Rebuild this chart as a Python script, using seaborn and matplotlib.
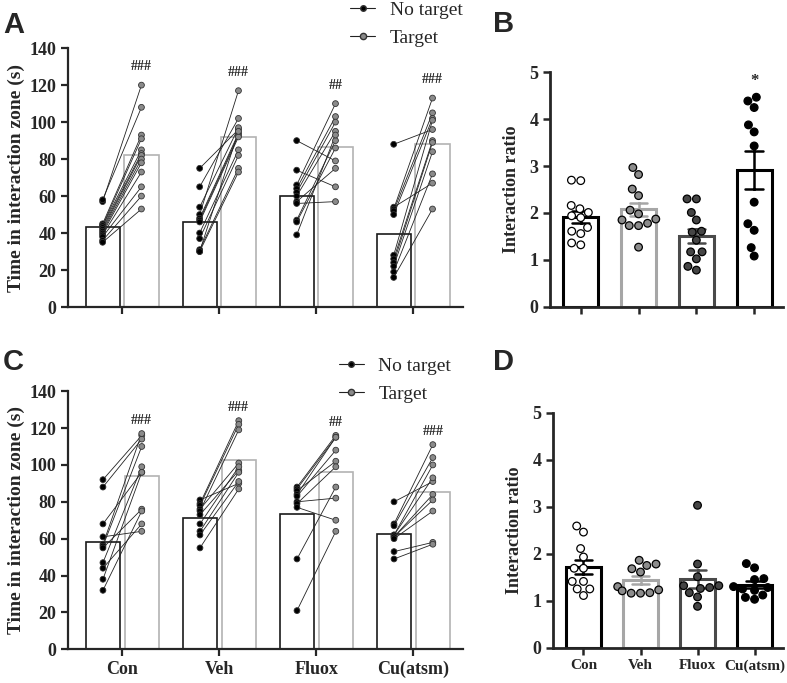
# Social interaction test: paired time-in-zone (A, C) and interaction ratio (B, D)

import pandas as pd
import matplotlib
matplotlib.use('Agg')
import matplotlib.pyplot as plt
import seaborn as sns
from matplotlib.lines import Line2D

groups = ['Con', 'Veh', 'Fluox', 'Cu(atsm)']
conds = ['No target', 'Target']

# ------------------------------------------------
# Data
# ------------------------------------------------
# Panel A: time in interaction zone (s), paired per animal
a_con_no = [57, 58, 45, 44, 44, 43, 42, 41, 40, 39, 38, 36, 35]
a_con_tg = [120, 108, 93, 91, 85, 83, 82, 80, 78, 73, 65, 60, 53]
a_veh_no = [75, 65, 54, 50, 48, 47, 46, 40, 37, 31, 30, 30]
a_veh_tg = [96, 102, 97, 117, 94, 93, 92, 85, 82, 75, 73, 95]
a_flu_no = [90, 74, 66, 64, 62, 60, 57, 56, 47, 46, 39]
a_flu_tg = [79, 65, 110, 103, 100, 95, 75, 57, 90, 86, 93]
a_cu_no = [88, 54, 53, 52, 50, 28, 26, 24, 22, 19, 16]
a_cu_tg = [96, 67, 113, 105, 102, 101, 90, 89, 84, 72, 53]
a_marks = ['###', '###', '##', '###']

# Panel C
c_con_no = [92, 88, 68, 61, 57, 56, 55, 47, 44, 38, 32]
c_con_tg = [116, 114, 96, 64, 117, 110, 76, 99, 68, 96, 75]
c_veh_no = [81, 79, 78, 76, 75, 73, 68, 64, 62, 55]
c_veh_tg = [90, 124, 122, 101, 119, 97, 99, 96, 91, 87]
c_flu_no = [88, 87, 86, 84, 83, 80, 79, 77, 49, 21]
c_flu_tg = [116, 115, 102, 115, 108, 82, 99, 70, 88, 64]
c_cu_no = [80, 68, 67, 62, 62, 61, 61, 60, 53, 49]
c_cu_tg = [91, 111, 104, 100, 93, 84, 81, 75, 58, 57]
c_marks = ['###', '###', '##', '###']

# Panel B: interaction ratio
b_con = [2.70, 2.69, 2.16, 2.09, 2.01, 1.94, 1.90, 1.69, 1.61, 1.56, 1.36, 1.32]
b_veh = [2.97, 2.82, 2.51, 2.37, 2.06, 1.98, 1.87, 1.85, 1.78, 1.73, 1.73, 1.27]
b_flu = [2.30, 2.30, 2.01, 1.85, 1.61, 1.59, 1.42, 1.17, 1.17, 1.02, 0.86, 0.78]
b_cu = [4.47, 4.39, 4.25, 3.88, 3.73, 3.43, 2.23, 1.77, 1.63, 1.26, 1.08]

# Panel D
d_con = [2.59, 2.46, 2.11, 1.93, 1.69, 1.69, 1.41, 1.41, 1.25, 1.25, 1.11]
d_veh = [1.86, 1.78, 1.75, 1.68, 1.61, 1.30, 1.23, 1.21, 1.17, 1.16, 1.16]
d_flu = [3.03, 1.78, 1.51, 1.32, 1.32, 1.28, 1.26, 1.17, 1.08, 0.88]
d_cu = [1.79, 1.70, 1.47, 1.45, 1.30, 1.28, 1.25, 1.22, 1.12, 1.07, 1.03]

# ------------------------------------------------
# Style
# ------------------------------------------------
sns.set_style('ticks')
plt.rcParams['font.family'] = ['Liberation Serif', 'DejaVu Serif']
plt.rcParams['font.weight'] = 'bold'
plt.rcParams['axes.labelweight'] = 'bold'

bar_edge = {'No target': '#1a1a1a', 'Target': '#b3b3b3'}
pt_col = {'No target': 'black', 'Target': '#8a8a8a'}
ratio_edge = {'Con': 'black', 'Veh': '#a6a6a6', 'Fluox': '#4a4a4a', 'Cu(atsm)': 'black'}
ratio_fill = {'Con': 'white', 'Veh': '#8c8c8c', 'Fluox': '#454545', 'Cu(atsm)': 'black'}


def paired_panel(ax, no_lists, tg_lists, marks, mark_off, labels, leg_anchor):
    rows = []
    for g, no, tg in zip(groups, no_lists, tg_lists):
        for k, (a, b) in enumerate(zip(no, tg)):
            rows.append((g, 'No target', a, k))
            rows.append((g, 'Target', b, k))
    df = pd.DataFrame(rows, columns=['group', 'cond', 'time', 'subject'])

    sns.barplot(data=df, x='group', y='time', hue='cond', order=groups,
                hue_order=conds, estimator='mean', errorbar=None, fill=False,
                palette=bar_edge, width=0.8, gap=0.12, linewidth=1.2,
                legend=False, ax=ax)
    # connect paired animals
    for i, (no, tg) in enumerate(zip(no_lists, tg_lists)):
        for a, b in zip(no, tg):
            ax.plot([i - 0.2, i + 0.2], [a, b], color='#222222', lw=0.6, zorder=3)
    sns.stripplot(data=df, x='group', y='time', hue='cond', order=groups,
                  hue_order=conds, dodge=True, jitter=False, palette=pt_col,
                  size=4.2, linewidth=0.6, edgecolor='#333333', legend=False,
                  zorder=4, ax=ax)
    for i, tg in enumerate(tg_lists):
        ax.text(i + 0.2, max(tg) + mark_off, marks[i], ha='center', va='center',
                fontsize=10)

    ax.set_ylim(0, 140)
    ax.set_yticks(range(0, 141, 20))
    ax.set_xlim(-0.557, 3.515)
    ax.set_xlabel('')
    ax.set_ylabel('Time in interaction zone (s)', fontsize=14, labelpad=3)
    ax.set_xticks(range(4))
    ax.set_xticklabels(groups if labels else [], fontsize=14)
    sns.despine(ax=ax)
    for s in ['left', 'bottom']:
        ax.spines[s].set_linewidth(1.6)
    ax.tick_params(width=1.6, length=5, labelsize=13)

    handles = [Line2D([0], [0], color='#222222', lw=0.8, marker='o', ms=4,
                      mfc='black', mec='#333333'),
               Line2D([0], [0], color='#222222', lw=0.8, marker='o', ms=4.5,
                      mfc='#8a8a8a', mec='#333333')]
    ax.legend(handles, conds, loc='upper left', bbox_to_anchor=leg_anchor,
              frameon=False, borderpad=0, borderaxespad=0, handlelength=1.3,
              handletextpad=0.75, prop={'size': 14, 'weight': 'normal'})


def ratio_panel(ax, lists, labels, star):
    rows = []
    for g, vals in zip(groups, lists):
        for v in vals:
            rows.append((g, v))
    df = pd.DataFrame(rows, columns=['group', 'ratio'])

    sns.barplot(data=df, x='group', y='ratio', hue='group', order=groups,
                hue_order=groups, palette=ratio_edge, fill=False, width=0.6,
                linewidth=2.2, errorbar='se', capsize=0.3,
                err_kws={'linewidth': 1.8}, legend=False, ax=ax)
    sns.swarmplot(data=df, x='group', y='ratio', hue='group', order=groups,
                  hue_order=groups, palette=ratio_fill, size=5.5,
                  edgecolor='black', linewidth=0.9, legend=False, zorder=4, ax=ax)
    if star:
        ax.text(3, max(lists[3]) + 0.35, '*', ha='center', va='center', fontsize=12)

    ax.set_ylim(0, 5)
    ax.set_yticks(range(0, 6))
    ax.set_xlim(-0.53, 3.5)
    ax.set_xlabel('')
    ax.set_ylabel('Interaction ratio', fontsize=13, labelpad=7)
    ax.set_xticks(range(4))
    ax.set_xticklabels(groups if labels else [], fontsize=11)
    sns.despine(ax=ax)
    for s in ['left', 'bottom']:
        ax.spines[s].set_linewidth(2.0)
    ax.tick_params(width=1.8, length=5, labelsize=13)
    ax.tick_params(axis='x', labelsize=11)


fig = plt.figure(figsize=(7.87, 6.83), dpi=100)
axA = fig.add_axes([0.0864, 0.5505, 0.502, 0.379])
axB = fig.add_axes([0.699, 0.551, 0.296, 0.343])
axC = fig.add_axes([0.0868, 0.0493, 0.502, 0.378])
axD = fig.add_axes([0.703, 0.0517, 0.292, 0.344])

paired_panel(axA, [a_con_no, a_veh_no, a_flu_no, a_cu_no],
             [a_con_tg, a_veh_tg, a_flu_tg, a_cu_tg], a_marks, 10, False, (0.714, 1.18))
paired_panel(axC, [c_con_no, c_veh_no, c_flu_no, c_cu_no],
             [c_con_tg, c_veh_tg, c_flu_tg, c_cu_tg], c_marks, 7, True, (0.684, 1.13))
ratio_panel(axB, [b_con, b_veh, b_flu, b_cu], False, True)
ratio_panel(axD, [d_con, d_veh, d_flu, d_cu], True, False)

for x, y, letter in [(0.004, 0.984, 'A'), (0.626, 0.986, 'B'),
                     (0.004, 0.490, 'C'), (0.626, 0.490, 'D')]:
    fig.text(x, y, letter, fontsize=21, fontweight='bold',
             family=['Liberation Sans', 'DejaVu Sans'], va='top', ha='left')

plt.savefig('out.png', dpi=100)
print("Figure saved as 'out.png'")
